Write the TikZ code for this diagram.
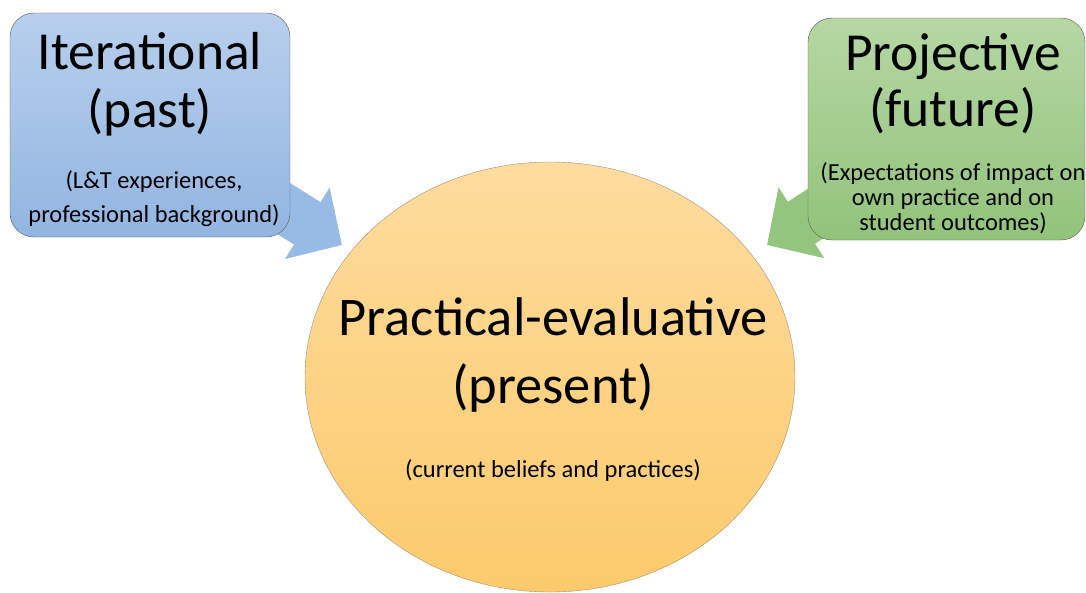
\documentclass[tikz,border=0pt]{standalone}
\usepackage{fontspec}
\setmainfont{Carlito}
\usetikzlibrary{arrows.meta, backgrounds, shapes.geometric}

\definecolor{pastTop}{RGB}{184,207,237}
\definecolor{pastBot}{RGB}{146,181,225}
\definecolor{pastArr}{RGB}{152,187,229}
\definecolor{futTop}{RGB}{182,215,164}
\definecolor{futBot}{RGB}{146,195,122}
\definecolor{futArr}{RGB}{148,197,126}
\definecolor{presTop}{RGB}{254,220,158}
\definecolor{presBot}{RGB}{251,202,108}

\newcommand{\bigtxt}{\fontsize{53.5}{58}\selectfont}
\newcommand{\smalltxt}{\fontsize{24.5}{30}\selectfont}

\begin{document}
\begin{tikzpicture}[x=1pt, y=-1pt,
    box/.style = {draw = black!65, rounded corners = 24pt, minimum width = 280pt, minimum height = 224pt, inner sep = 0pt},
    title/.style = {anchor = base, inner sep = 0pt, font = \bigtxt},
    note/.style = {anchor = base, inner sep = 0pt, font = \smalltxt},
    flow/.style = {line width = 50pt, -{Triangle[width = 82pt, length = 41pt]}}]
  \useasboundingbox (0, 0) rectangle (1086, 592);

  % the three time orientations
  \node [box, top color = pastTop, bottom color = pastBot] (past) at (150, 125) {};
  \node [box, top color = futTop, bottom color = futBot, minimum width = 277pt, minimum height = 222pt] (future) at (946.5, 129) {};
  \node [ellipse, draw = black!45!brown!60, top color = presTop, bottom color = presBot, minimum width = 490pt, minimum height = 430pt, inner sep = 0pt] (present) at (550, 377) {};

  \coordinate (pastTip) at (342, 245);
  \coordinate (futTip) at (767, 245);

  \begin{pgfonlayer}{background}
    \draw [flow, pastArr] (past.center) -- (pastTip);
    \draw [flow, futArr] (future.center) -- (futTip);
  \end{pgfonlayer}

  % texts
  \node [title] (pastT1) at (150, 69) {Iterational};
  \node [title] (pastT2) at (150, 127) {(past)};
  \node [note] (pastN1) at (154, 188) {(L\&T experiences,};
  \node [note] (pastN2) at (154, 222) {professional background)};

  \node [title] (futT1) at (953, 70) {Projective};
  \node [title] (futT2) at (953, 126) {(future)};
  \node [note] (futN1) at (953, 180) {(Expectations of impact on};
  \node [note] (futN2) at (953, 205) {own practice and on};
  \node [note] (futN3) at (953, 230) {student outcomes)};

  \node [title, font = \fontsize{54.5}{60}\selectfont] (presT1) at (553, 335) {Practical-evaluative};
  \node [title, font = \fontsize{54.5}{60}\selectfont] (presT2) at (553, 403) {(present)};
  \node [note] (presN) at (553, 477) {(current beliefs and practices)};
\end{tikzpicture}
\end{document}
